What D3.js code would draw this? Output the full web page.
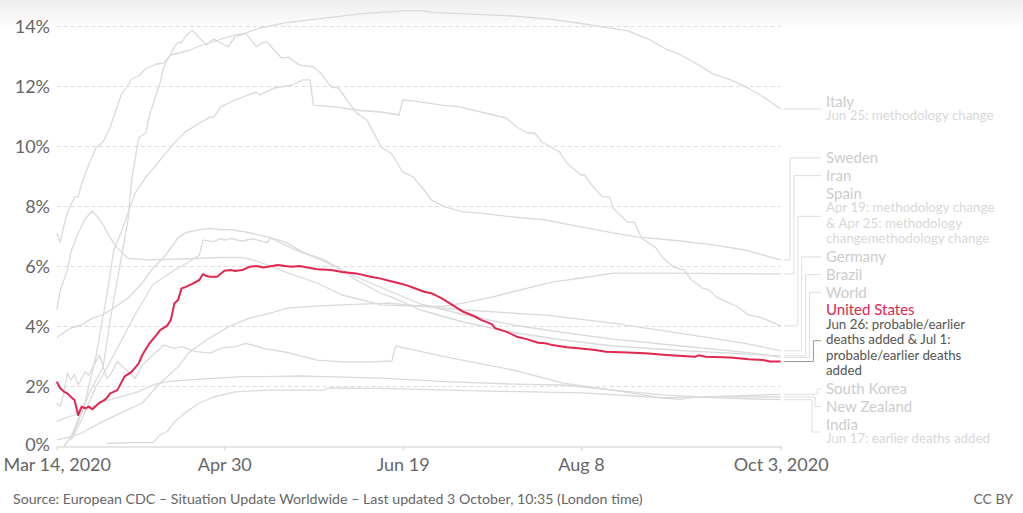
<!DOCTYPE html>
<html>
<head>
<meta charset="utf-8">
<script src="https://cdn.jsdelivr.net/npm/d3@7"></script>
<style>
  html, body { margin: 0; padding: 0; background: #fff; }
  svg { display: block; font-family: Lato, "Noto Sans", sans-serif; }
</style>
</head>
<body>
<div id="chart"></div>
<script>
// case fatality rate (%), points are [days since Mar 14 2020, value]
const italy = [[0,7.1],[1,6.82],[2,7.35],[3,7.8],[5,8.32],[6,8.32],[7,8.75],[9,9.4],[11,9.95],[13,10.15],[15,10.65],[16,11.0],[18,11.7],[20,12.05],[21,12.25],[23,12.35],[25,12.6],[28,12.75],[30,12.78],[32,13.05],[37,13.2],[40,13.35],[44,13.5],[50,13.72],[53,13.78],[57,13.95],[64,14.12],[68,14.18],[78,14.32],[85,14.42],[92,14.48],[98,14.53],[102,14.53],[106,14.46],[115,14.42],[128,14.35],[139,14.24],[147,14.1],[154,13.97],[160,13.86],[166,13.57],[171,13.24],[175,13.05],[180,12.72],[184,12.42],[189,12.22],[194,11.94],[198,11.66],[203,11.25]];
const sweden = [[2,0.0],[5,0.5],[9,1.75],[13,2.65],[15,4.2],[17,5.55],[20,7.55],[21,8.88],[23,10.3],[25,10.45],[26,11.05],[29,12.12],[30,12.65],[33,13.32],[34,13.48],[35,13.45],[36,13.65],[38,13.88],[40,13.62],[42,13.38],[44,13.58],[46,13.45],[48,13.32],[50,13.65],[53,13.78],[56,13.32],[58,13.48],[59,13.48],[63,12.95],[65,12.98],[68,12.72],[72,12.65],[74,12.45],[77,11.98],[79,11.95],[84,11.12],[87,10.88],[91,9.98],[94,9.75],[97,9.15],[100,8.98],[103,8.55],[105,8.22],[109,7.98],[114,7.82],[119,7.78],[128,7.65],[137,7.55],[147,7.32],[156,7.12],[163,6.98],[166,6.95],[175,6.85],[184,6.72],[193,6.55],[203,6.22]];
const iran = [[0,4.55],[1,5.2],[3,5.88],[4,6.5],[6,7.1],[8,7.6],[10,7.85],[11,7.72],[13,7.4],[15,6.95],[17,6.62],[20,6.27],[26,6.22],[35,6.25],[46,6.3],[52,6.3],[55,6.22],[58,6.1],[64,5.82],[73,5.45],[80,5.05],[91,4.72],[100,4.68],[109,4.68],[114,4.78],[122,4.98],[130,5.22],[139,5.48],[149,5.65],[156,5.78],[170,5.78],[203,5.75]];
const spain = [[4,0.3],[8,1.5],[11,3.0],[14,5.0],[16,6.55],[18,7.12],[20,7.78],[22,8.45],[25,8.98],[29,9.55],[33,10.12],[36,10.48],[40,10.78],[43,10.98],[44,10.98],[46,11.32],[50,11.55],[56,11.82],[57,11.72],[61,11.95],[66,12.05],[69,12.22],[71,12.22],[72,11.38],[78,11.32],[85,11.2],[91,11.15],[96,11.05],[97,11.55],[100,11.52],[108,11.38],[113,11.32],[119,11.15],[126,10.95],[129,10.65],[132,10.45],[134,10.45],[136,10.15],[141,9.82],[143,9.45],[147,9.05],[148,9.05],[150,8.72],[153,8.32],[155,8.32],[156,7.95],[160,7.48],[162,7.48],[164,6.95],[168,6.62],[170,6.28],[173,5.98],[176,5.88],[178,5.55],[181,5.28],[183,5.22],[185,4.98],[191,4.65],[194,4.38],[197,4.32],[203,4.02]];
const germany = [[0,0.22],[4,0.32],[7,0.45],[12,0.78],[18,1.12],[24,1.45],[29,2.12],[34,2.65],[37,3.12],[42,3.55],[48,3.98],[54,4.28],[60,4.45],[65,4.62],[73,4.68],[80,4.72],[93,4.78],[114,4.55],[137,4.38],[156,4.11],[175,3.77],[193,3.44],[203,3.19]];
const brazil = [[4,0.2],[7,0.9],[11,2.0],[14,2.6],[18,3.5],[22,4.4],[27,5.4],[32,5.8],[37,6.15],[40,6.38],[41,6.88],[44,6.83],[46,6.93],[47,6.88],[49,6.93],[52,6.85],[55,6.92],[59,6.8],[60,6.95],[64,6.72],[67,6.55],[73,6.28],[79,5.95],[84,5.55],[91,5.1],[94,4.98],[102,4.55],[114,4.15],[128,3.8],[142,3.55],[156,3.35],[175,3.2],[194,3.08],[203,3.02]];
const world = [[0,3.62],[1,3.72],[4,3.95],[7,4.05],[10,4.28],[13,4.4],[16,4.62],[20,4.95],[24,5.45],[27,5.95],[30,6.3],[32,6.62],[34,6.95],[36,7.12],[40,7.23],[43,7.27],[46,7.23],[49,7.23],[53,7.15],[58,7.02],[64,6.82],[69,6.48],[75,6.22],[80,5.88],[86,5.55],[91,5.3],[94,5.15],[102,4.75],[114,4.4],[128,4.05],[142,3.8],[156,3.58],[175,3.35],[194,3.13],[203,2.97]];
const unitedStates = [[0,2.16],[1,1.94],[2,1.83],[3,1.77],[4,1.65],[5,1.55],[6,1.05],[7,1.33],[8,1.27],[9,1.33],[10,1.24],[12,1.46],[13,1.52],[14,1.61],[15,1.77],[17,1.88],[19,2.33],[21,2.49],[23,2.77],[24,3.05],[26,3.44],[28,3.72],[29,3.88],[31,4.03],[32,4.22],[33,4.77],[34,4.88],[35,5.27],[36,5.31],[38,5.42],[40,5.55],[41,5.75],[42,5.68],[43,5.66],[45,5.66],[47,5.86],[49,5.88],[50,5.85],[52,5.88],[54,5.99],[56,6.02],[58,5.97],[62,6.05],[64,6.02],[66,5.99],[68,6.02],[73,5.91],[77,5.88],[80,5.82],[84,5.77],[88,5.66],[90,5.62],[94,5.5],[96,5.44],[98,5.38],[100,5.29],[103,5.16],[105,5.11],[108,4.94],[110,4.79],[114,4.49],[117,4.35],[119,4.22],[122,4.08],[123,3.94],[126,3.83],[129,3.66],[132,3.57],[135,3.46],[137,3.44],[139,3.38],[143,3.31],[147,3.27],[151,3.22],[154,3.16],[160,3.13],[165,3.11],[171,3.05],[179,2.99],[180,3.04],[182,2.99],[189,2.97],[194,2.91],[198,2.88],[200,2.83],[203,2.83]];
const southKorea = [[0,0.83],[2,0.94],[5,1.05],[9,1.27],[13,1.49],[18,1.66],[23,1.83],[27,2.05],[31,2.16],[37,2.22],[44,2.27],[52,2.33],[58,2.33],[68,2.35],[78,2.32],[91,2.28],[109,2.16],[128,2.08],[142,2.05],[156,1.88],[170,1.61],[175,1.57],[180,1.66],[184,1.66],[203,1.74]];
const newZealand = [[14,0.1],[21,0.13],[27,0.13],[29,0.38],[31,0.5],[33,0.82],[36,1.12],[40,1.45],[44,1.65],[50,1.82],[59,1.88],[75,1.88],[76,1.95],[91,1.94],[124,1.84],[147,1.79],[160,1.7],[170,1.62],[180,1.66],[203,1.65]];
const india = [[0,1.45],[1,1.33],[2,1.77],[3,2.44],[4,2.22],[5,2.4],[6,2.05],[8,2.49],[9,2.38],[10,2.61],[12,3.05],[14,2.27],[15,2.38],[16,2.61],[17,2.83],[19,2.61],[21,2.38],[22,2.27],[23,2.49],[24,2.72],[27,3.05],[29,3.27],[30,3.38],[33,3.27],[35,3.33],[39,3.16],[43,3.11],[46,3.27],[50,3.33],[53,3.44],[55,3.38],[58,3.27],[64,3.15],[73,2.88],[80,2.82],[88,2.82],[94,2.85],[95,3.35],[109,2.99],[128,2.55],[142,2.11],[156,1.88],[170,1.72],[185,1.62],[203,1.56]];

const italyNotes = ["Jun 25: methodology change"];
const spainNotes = ["Apr 19: methodology change", "& Apr 25: methodology", "changemethodology change"];
const usNotes = ["Jun 26: probable/earlier", "deaths added & Jul 1:", "probable/earlier deaths", "added"];
const indiaNotes = ["Jun 17: earlier deaths added"];

const yTicks = [0, 2, 4, 6, 8, 10, 12, 14];
const xTickDays = [0, 47, 97, 147, 203];
const xTickLabels = ["Mar 14, 2020", "Apr 30", "Jun 19", "Aug 8", "Oct 3, 2020"];

const startDate = new Date(2020, 2, 14);
const toDate = d => d3.timeDay.offset(startDate, d);

const series = [
    { name: "Italy", values: italy, notes: italyNotes },
    { name: "Sweden", values: sweden, notes: [] },
    { name: "Iran", values: iran, notes: [] },
    { name: "Spain", values: spain, notes: spainNotes },
    { name: "Germany", values: germany, notes: [] },
    { name: "Brazil", values: brazil, notes: [] },
    { name: "World", values: world, notes: [] },
    { name: "United States", values: unitedStates, notes: usNotes, highlight: true },
    { name: "South Korea", values: southKorea, notes: [] },
    { name: "New Zealand", values: newZealand, notes: [] },
    { name: "India", values: india, notes: indiaNotes }
];

const width = 1023, height = 513;
const red = "#e3264f";
const grey = "#dadada";

const svg = d3.select("#chart").append("svg")
    .attr("width", width)
    .attr("height", height);

// faint shade under the header
const grad = svg.append("defs").append("linearGradient")
    .attr("id", "shade").attr("x1", 0).attr("x2", 0).attr("y1", 0).attr("y2", 1);
grad.append("stop").attr("offset", 0).attr("stop-color", "#eeeeee");
grad.append("stop").attr("offset", 1).attr("stop-color", "#ffffff");
svg.append("rect").attr("width", width).attr("height", 30).attr("fill", "url(#shade)");

const x = d3.scaleTime()
    .domain([toDate(0), toDate(203)])
    .range([56.7, 780.7]);
const y = d3.scaleLinear()
    .domain([0, 14])
    .range([446.5, 26.5]);

// dashed gridlines
svg.append("g")
    .selectAll("line")
    .data(yTicks.filter(d => d > 0))
    .join("line")
    .attr("x1", x.range()[0]).attr("x2", x.range()[1])
    .attr("y1", d => y(d)).attr("y2", d => y(d))
    .attr("stroke", "#dddddd")
    .attr("stroke-dasharray", "4,3");

// y axis labels
const yAxis = svg.append("g")
    .attr("transform", "translate(50,0)")
    .call(d3.axisLeft(y).tickValues(yTicks).tickFormat(d => d + "%").tickSize(0).tickPadding(0));
yAxis.select(".domain").remove();
yAxis.selectAll("text")
    .attr("fill", "#666")
    .style("font-size", "18px")
    .style("font-family", "Lato, sans-serif");
// the bottom label sits a touch higher so it clears the date below it
yAxis.selectAll(".tick").filter(d => d === 0).select("text").attr("dy", "0.2em");

// x axis
const xAxis = svg.append("g")
    .attr("transform", `translate(0,${y(0)})`)
    .call(d3.axisBottom(x)
        .tickValues(xTickDays.map(toDate))
        .tickFormat((d, i) => xTickLabels[i])
        .tickSize(4)
        .tickSizeOuter(0)
        .tickPadding(8));
xAxis.select(".domain").attr("stroke", "#cccccc");
xAxis.selectAll(".tick line").attr("stroke", "#cccccc");
xAxis.selectAll("text")
    .attr("fill", "#666")
    .style("font-size", "18px")
    .style("font-family", "Lato, sans-serif");

// lines
const line = d3.line()
    .x(d => x(toDate(d[0])))
    .y(d => y(d[1]));

const ordered = series.filter(s => !s.highlight).concat(series.filter(s => s.highlight));
svg.append("g")
    .selectAll("path")
    .data(ordered)
    .join("path")
    .attr("fill", "none")
    .attr("stroke", d => d.highlight ? red : grey)
    .attr("stroke-width", d => d.highlight ? 2 : 1.3)
    .attr("stroke-linejoin", "round")
    .attr("d", d => line(d.values));

// label layout: stack blocks next to the line ends, no overlaps
const nameH = 17.7, noteH = 15.3, nameBase = 14, noteGap = 13.8;
const blocks = series.map(s => {
    const last = s.values[s.values.length - 1];
    return { s, endY: y(last[1]), endX: x(toDate(last[0])), h: nameH + noteH * s.notes.length };
}).sort((a, b) => a.endY - b.endY);

blocks.forEach(b => b.top = b.endY - b.h / 2);
for (let i = 1; i < blocks.length; i++) {
    const p = blocks[i - 1];
    if (blocks[i].top < p.top + p.h) blocks[i].top = p.top + p.h;
}
const bound = y(0) + 2;
for (let i = blocks.length - 1; i >= 0; i--) {
    const limit = i === blocks.length - 1 ? bound : blocks[i + 1].top;
    if (blocks[i].top + blocks[i].h > limit) blocks[i].top = limit - blocks[i].h;
}

// elbow positions so the leader lines never cross
let up = 0;
const downs = [];
blocks.forEach(b => {
    b.cy = b.top + b.h / 2;
    if (Math.abs(b.cy - b.endY) < 1) b.elbow = 800;
    else if (b.cy < b.endY) b.elbow = 790 + 3.9 * up++;
    else downs.push(b);
});
downs.forEach((b, i) => b.elbow = 815 - 3 * i);

const labelX = 826;
const lab = svg.append("g");

lab.selectAll("path")
    .data(blocks)
    .join("path")
    .attr("fill", "none")
    .attr("stroke", d => d.s.highlight ? "#999" : "#dedede")
    .attr("stroke-width", 1)
    .attr("d", d => `M${d.endX + 3},${d.endY}H${d.elbow}V${d.cy}H${labelX - 5}`);

const g = lab.selectAll("g")
    .data(blocks)
    .join("g");

g.append("text")
    .attr("x", labelX)
    .attr("y", d => d.top + nameBase)
    .attr("fill", d => d.s.highlight ? red : "#cccccc")
    .style("font-size", "15px")
    .text(d => d.s.name);

g.selectAll("text.note")
    .data(d => d.s.notes.map((t, i) => ({ t, i, b: d })))
    .join("text")
    .attr("class", "note")
    .attr("x", labelX)
    .attr("y", d => d.b.top + nameBase + noteGap + d.i * noteH)
    .attr("fill", d => d.b.s.highlight ? "#555" : "#d8d8d8")
    .style("font-size", "13.3px")
    .text(d => d.t);

// footer
svg.append("text")
    .attr("x", 13).attr("y", 504)
    .attr("fill", "#666")
    .style("font-size", "14.2px")
    .text("Source: European CDC – Situation Update Worldwide – Last updated 3 October, 10:35 (London time)");
svg.append("text")
    .attr("x", 1013).attr("y", 504)
    .attr("text-anchor", "end")
    .attr("fill", "#666")
    .style("font-size", "14px")
    .text("CC BY");
</script>
</body>
</html>
